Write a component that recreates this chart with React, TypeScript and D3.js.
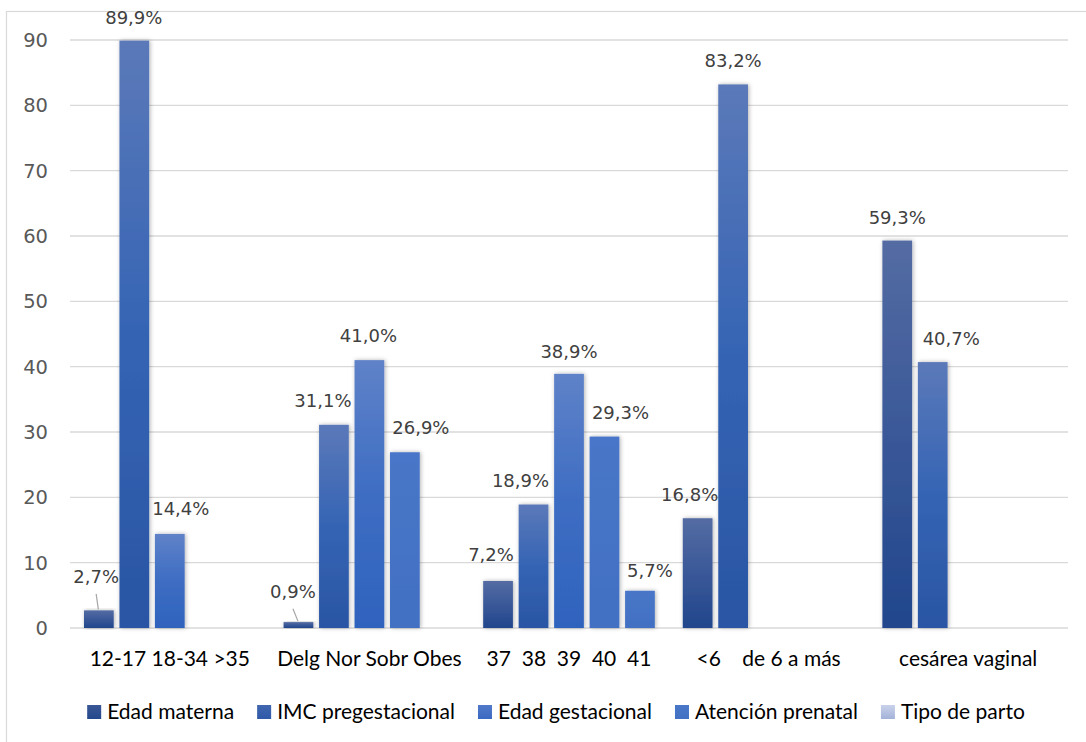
import React from 'react';
import * as d3 from 'd3';

// Category labels along the x axis (one per variable block)
const groups = [
  '12-17 18-34 >35',
  'Delg Nor Sobr Obes',
  '37  38  39  40  41',
  '<6    de 6 a más',
  'cesárea vaginal',
];

const seriesNames = [
  'Edad materna',
  'IMC pregestacional',
  'Edad gestacional',
  'Atención prenatal',
  'Tipo de parto',
];

// Percentages, one value per block (null = no bar in that slot)
const edadMaterna: (number | null)[] = [2.7, 0.9, 7.2, 16.8, 59.3];
const imcPregestacional: (number | null)[] = [89.9, 31.1, 18.9, 83.2, 40.7];
const edadGestacional: (number | null)[] = [14.4, 41.0, 38.9, null, null];
const atencionPrenatal: (number | null)[] = [null, 26.9, 29.3, null, null];
const tipoDeParto: (number | null)[] = [null, null, 5.7, null, null];

const yTicks = [0, 10, 20, 30, 40, 50, 60, 70, 80, 90];

const seriesValues = [edadMaterna, imcPregestacional, edadGestacional, atencionPrenatal, tipoDeParto];

// Manual label nudges [dx, dy] per block/slot, and labels pulled away with a leader line
const labelNudge: [number, number][][] = [
  [[0, 0], [-0.5, 1], [11, -1.5], [0, 0], [0, 0]],
  [[0, 0], [-11, -0.7], [-1, -0.3], [16, -0.3], [0, 0]],
  [[-7, -2], [-13, 0], [0, 1.3], [16, -0.5], [10, 4]],
  [[-8, 0], [0, 0], [0, 0], [0, 0], [0, 0]],
  [[0, 0.7], [18.5, 0.3], [0, 0], [0, 0], [0, 0]],
];
const leaderLabels: Record<string, [number, number]> = {
  '0-0': [-2.7, -33.5],
  '1-0': [-5.5, -30.4],
};

// Bar gradients (top -> bottom) and legend swatch gradients
const barGradients = [
  ['#546CA3', '#3A5898', '#21468C'],
  ['#5B79B9', '#3564B4', '#2A55A4'],
  ['#5F82C8', '#3E6DC3', '#2F63BD'],
  ['#4976C8', '#4573C5', '#4270C2'],
  ['#4976C8', '#4573C5', '#4270C2'],
];
const swatchGradients = [
  ['#3A5796', '#24488C'],
  ['#4067B0', '#2F5AA8'],
  ['#5179C9', '#3A69C2'],
  ['#4A77C8', '#4271C3'],
  ['#CAD2EA', '#A3B2D9'],
];

const W = 1086;
const H = 742;
const plotLeft = 70;
const plotRight = 1068;
const plotTop = 40;
const plotBottom = 628;

const labelFont = 'DejaVu Sans';
const catFont = 'Lato';
const catFontSize = 21;

function textWidth(text: string, font: string): number {
  const ctx = document.createElement('canvas').getContext('2d');
  if (!ctx) return text.length * 9;
  ctx.font = font;
  return ctx.measureText(text).width;
}

export default function App() {
  const x0 = d3.scaleBand<string>().domain(groups).range([plotLeft, plotRight]).padding(0);
  const x1 = d3
    .scaleBand<string>()
    .domain(seriesNames)
    .range([0, x0.bandwidth()])
    .paddingInner(0.162)
    .paddingOuter(0.394);
  const y = d3.scaleLinear().domain([0, 90]).range([plotBottom, plotTop]);

  // Legend layout: swatch, gap, text, spacing — centred under the chart
  const swatch = 14;
  const swGap = 6;
  const itemGap = 23;
  const widths = seriesNames.map((s) => textWidth(s, `${catFontSize}px ${catFont}`));
  const totalLegend =
    widths.reduce((a, b) => a + b, 0) + seriesNames.length * (swatch + swGap) + itemGap * (seriesNames.length - 1);
  const legendCenter = 556;
  let cursor = legendCenter - totalLegend / 2;
  const legendItems = seriesNames.map((name, i) => {
    const item = { name, i, x: cursor };
    cursor += swatch + swGap + widths[i] + itemGap;
    return item;
  });
  const legendY = 712;

  const bars: React.ReactNode[] = [];
  const labels: React.ReactNode[] = [];

  groups.forEach((g, gi) => {
    seriesNames.forEach((s, si) => {
      const v = seriesValues[si][gi];
      if (v == null) return;
      const bx = (x0(g) ?? 0) + (x1(s) ?? 0);
      const bw = x1.bandwidth();
      const top = y(v);
      const cx = bx + bw / 2;
      bars.push(
        <rect
          key={`b-${gi}-${si}`}
          x={bx}
          y={top}
          width={bw}
          height={y(0) - top}
          fill={`url(#bar-grad-${si})`}
          filter="url(#bar-shadow)"
        />
      );
      const text = `${d3.format('.1f')(v).replace('.', ',')}%`;
      const leader = leaderLabels[`${gi}-${si}`];
      if (leader) {
        const lx = cx + leader[0];
        const ly = top + leader[1];
        labels.push(
          <g key={`l-${gi}-${si}`}>
            <line x1={lx} y1={ly + 17} x2={cx - 0.5} y2={top - 1} stroke="#A6A6A6" strokeWidth={1.2} />
            <text x={lx} y={ly + 6.5} textAnchor="middle" fontFamily={labelFont} fontSize={18} fill="#404040">
              {text}
            </text>
          </g>
        );
      } else {
        const [dx, dy] = labelNudge[gi][si];
        labels.push(
          <text
            key={`l-${gi}-${si}`}
            x={cx + dx}
            y={top - 24 + dy + 6.5}
            textAnchor="middle"
            fontFamily={labelFont}
            fontSize={18}
            fill="#404040"
          >
            {text}
          </text>
        );
      }
    });
  });

  return (
    <div style={{ position: 'absolute', left: 0, top: 0 }}>
      <svg width={W} height={H} style={{ display: 'block', background: '#fff' }}>
        <defs>
          {barGradients.map((c, i) => (
            <linearGradient key={i} id={`bar-grad-${i}`} x1="0" y1="0" x2="0" y2="1">
              <stop offset="0%" stopColor={c[0]} />
              <stop offset="50%" stopColor={c[1]} />
              <stop offset="100%" stopColor={c[2]} />
            </linearGradient>
          ))}
          {swatchGradients.map((c, i) => (
            <linearGradient key={i} id={`sw-grad-${i}`} x1="0" y1="0" x2="0" y2="1">
              <stop offset="0%" stopColor={c[0]} />
              <stop offset="100%" stopColor={c[1]} />
            </linearGradient>
          ))}
          <filter id="bar-shadow" x="-30%" y="-10%" width="160%" height="120%">
            <feDropShadow dx="1" dy="0" stdDeviation="2" floodColor="#000" floodOpacity="0.3" />
          </filter>
        </defs>

        {/* chart area border */}
        <rect x={6.5} y={11.5} width={1200} height={900} fill="none" stroke="#D9D9D9" strokeWidth={1.2} />

        {/* gridlines */}
        {yTicks.map((t) => (
          <line
            key={`g-${t}`}
            x1={plotLeft}
            x2={plotRight}
            y1={y(t)}
            y2={y(t)}
            stroke="#D9D9D9"
            strokeWidth={1.3}
          />
        ))}

        {/* y tick labels */}
        {yTicks.map((t) => (
          <text
            key={`t-${t}`}
            x={48}
            y={y(t) + 7}
            textAnchor="end"
            fontFamily={labelFont}
            fontSize={19.5}
            fill="#595959"
          >
            {t}
          </text>
        ))}

        {bars}
        {labels}

        {/* category labels */}
        {groups.map((g) => (
          <text
            key={`c-${g}`}
            x={(x0(g) ?? 0) + x0.bandwidth() / 2}
            y={666}
            textAnchor="middle"
            fontFamily={catFont}
            fontSize={catFontSize}
            fill="#000"
            style={{ whiteSpace: 'pre' }}
          >
            {g}
          </text>
        ))}

        {/* legend */}
        {legendItems.map((it) => (
          <g key={`lg-${it.i}`}>
            <rect
              x={it.x}
              y={legendY - swatch / 2}
              width={swatch}
              height={swatch}
              fill={`url(#sw-grad-${it.i})`}
            />
            <text
              x={it.x + swatch + swGap}
              y={legendY + 7}
              fontFamily={catFont}
              fontSize={catFontSize}
              fill="#000"
            >
              {it.name}
            </text>
          </g>
        ))}
      </svg>
    </div>
  );
}
